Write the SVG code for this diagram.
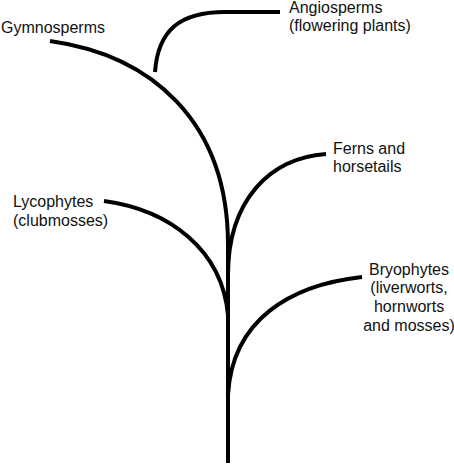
<svg xmlns="http://www.w3.org/2000/svg" width="454" height="464" viewBox="0 0 454 464">
<style>
.l{fill:none;stroke:#000;stroke-width:4;stroke-linecap:butt}
text{font-family:"Liberation Sans",Arial,sans-serif;font-size:16px;fill:#111}
</style>
<rect width="454" height="464" fill="#fff"/>
<g id="connectors">
<path class="l" d="M228,463 L228,240"/>
<path class="l" d="M50,41 C150,55 228,120 228,245"/>
<path class="l" d="M155,72 C158,30 180,12 225,12 L280,12"/>
<path class="l" d="M228,275 C228,200 270,158 326,154"/>
<path class="l" d="M104,201 C170,210 222,250 228,315"/>
<path class="l" d="M362,277 C290,285 232,320 228,395"/>
</g>
<g id="gymnosperms"><text x="1" y="33">Gymnosperms</text></g>
<g id="angiosperms"><text x="289" y="13">Angiosperms</text><text x="289" y="31">(flowering plants)</text></g>
<g id="ferns"><text x="333" y="154">Ferns and</text><text x="333" y="172">horsetails</text></g>
<g id="lycophytes"><text x="13" y="207">Lycophytes</text><text x="13" y="226">(clubmosses)</text></g>
<g id="bryophytes" text-anchor="middle"><text x="409" y="275">Bryophytes</text><text x="409" y="293">(liverworts,</text><text x="409" y="312">hornworts</text><text x="409" y="331">and mosses)</text></g>
</svg>
